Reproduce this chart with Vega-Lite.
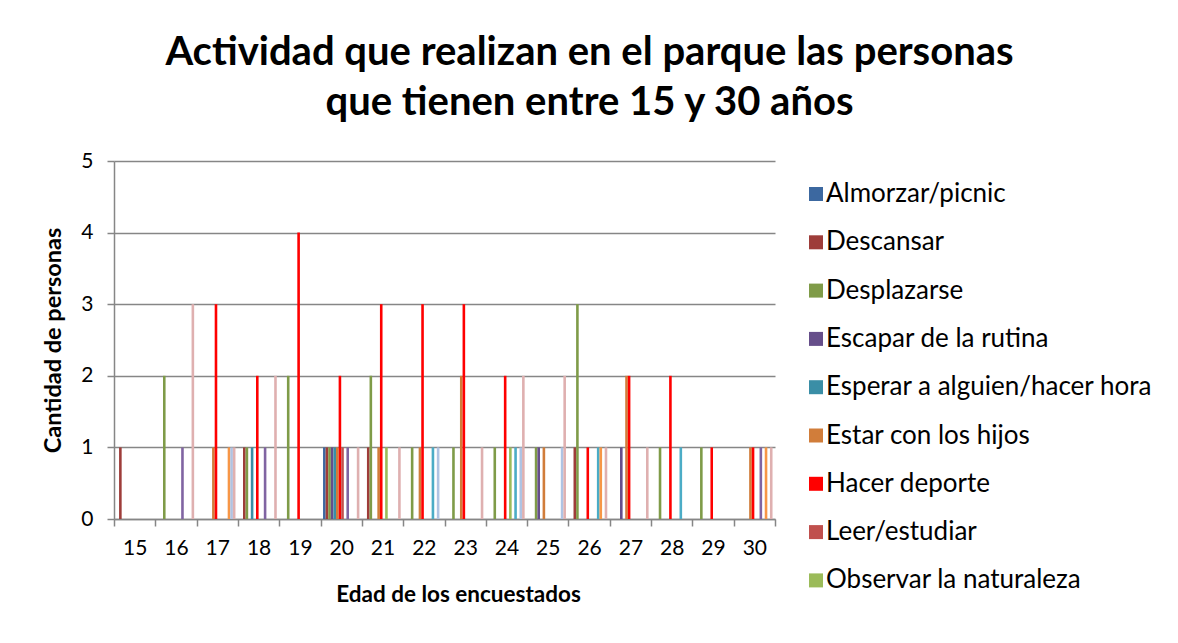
{
  "$schema": "https://vega.github.io/schema/vega-lite/v6.json",
  "width": 661,
  "height": 358,
  "autosize": {"type": "none"},
  "padding": {"left": 114, "top": 161, "right": 403, "bottom": 124},
  "background": "white",
  "title": {
    "text": ["Actividad que realizan en el parque las personas", "que tienen entre 15 y 30 años"],
    "font": "Lato",
    "fontSize": 40,
    "fontWeight": "bold",
    "color": "#000000",
    "anchor": "middle",
    "dx": 145,
    "offset": 27,
    "lineHeight": 50
  },
  "data": {
    "values": [
      {"edad": "15", "actividad": "Descansar", "n": 1},
      {"edad": "16", "actividad": "Desplazarse", "n": 2},
      {"edad": "16", "actividad": "Pasear", "n": 1},
      {"edad": "16", "actividad": "Ver a la pareja", "n": 3},
      {"edad": "17", "actividad": "Estar con los hijos", "n": 1},
      {"edad": "17", "actividad": "Hacer deporte", "n": 3},
      {"edad": "17", "actividad": "Reunirse con amigos", "n": 1},
      {"edad": "17", "actividad": "Tomar el sol", "n": 1},
      {"edad": "17", "actividad": "Ver a la pareja", "n": 1},
      {"edad": "18", "actividad": "Descansar", "n": 1},
      {"edad": "18", "actividad": "Desplazarse", "n": 1},
      {"edad": "18", "actividad": "Esperar a alguien/hacer hora", "n": 1},
      {"edad": "18", "actividad": "Hacer deporte", "n": 2},
      {"edad": "18", "actividad": "Pasear", "n": 1},
      {"edad": "18", "actividad": "Ver a la pareja", "n": 2},
      {"edad": "19", "actividad": "Desplazarse", "n": 2},
      {"edad": "19", "actividad": "Hacer deporte", "n": 4},
      {"edad": "20", "actividad": "Almorzar/picnic", "n": 1},
      {"edad": "20", "actividad": "Descansar", "n": 1},
      {"edad": "20", "actividad": "Desplazarse", "n": 1},
      {"edad": "20", "actividad": "Escapar de la rutina", "n": 1},
      {"edad": "20", "actividad": "Esperar a alguien/hacer hora", "n": 1},
      {"edad": "20", "actividad": "Estar con los hijos", "n": 1},
      {"edad": "20", "actividad": "Hacer deporte", "n": 2},
      {"edad": "20", "actividad": "Leer/estudiar", "n": 1},
      {"edad": "20", "actividad": "Pasear", "n": 1},
      {"edad": "20", "actividad": "Ver a la pareja", "n": 1},
      {"edad": "21", "actividad": "Descansar", "n": 1},
      {"edad": "21", "actividad": "Desplazarse", "n": 2},
      {"edad": "21", "actividad": "Estar con los hijos", "n": 1},
      {"edad": "21", "actividad": "Hacer deporte", "n": 3},
      {"edad": "21", "actividad": "Observar la naturaleza", "n": 1},
      {"edad": "21", "actividad": "Ver a la pareja", "n": 1},
      {"edad": "22", "actividad": "Desplazarse", "n": 1},
      {"edad": "22", "actividad": "Estar con los hijos", "n": 1},
      {"edad": "22", "actividad": "Hacer deporte", "n": 3},
      {"edad": "22", "actividad": "Pasear la mascota", "n": 1},
      {"edad": "22", "actividad": "Tomar el sol", "n": 1},
      {"edad": "23", "actividad": "Desplazarse", "n": 1},
      {"edad": "23", "actividad": "Estar con los hijos", "n": 2},
      {"edad": "23", "actividad": "Hacer deporte", "n": 3},
      {"edad": "23", "actividad": "Ver a la pareja", "n": 1},
      {"edad": "24", "actividad": "Desplazarse", "n": 1},
      {"edad": "24", "actividad": "Hacer deporte", "n": 2},
      {"edad": "24", "actividad": "Observar la naturaleza", "n": 1},
      {"edad": "24", "actividad": "Pasear la mascota", "n": 1},
      {"edad": "24", "actividad": "Tomar el sol", "n": 1},
      {"edad": "24", "actividad": "Ver a la pareja", "n": 2},
      {"edad": "25", "actividad": "Desplazarse", "n": 1},
      {"edad": "25", "actividad": "Escapar de la rutina", "n": 1},
      {"edad": "25", "actividad": "Estar con los hijos", "n": 1},
      {"edad": "25", "actividad": "Tomar el sol", "n": 1},
      {"edad": "25", "actividad": "Ver a la pareja", "n": 2},
      {"edad": "26", "actividad": "Descansar", "n": 1},
      {"edad": "26", "actividad": "Desplazarse", "n": 3},
      {"edad": "26", "actividad": "Hacer deporte", "n": 1},
      {"edad": "26", "actividad": "Pasear la mascota", "n": 1},
      {"edad": "26", "actividad": "Reunirse con amigos", "n": 1},
      {"edad": "26", "actividad": "Ver a la pareja", "n": 1},
      {"edad": "27", "actividad": "Escapar de la rutina", "n": 1},
      {"edad": "27", "actividad": "Estar con los hijos", "n": 2},
      {"edad": "27", "actividad": "Hacer deporte", "n": 2},
      {"edad": "27", "actividad": "Ver a la pareja", "n": 1},
      {"edad": "28", "actividad": "Desplazarse", "n": 1},
      {"edad": "28", "actividad": "Hacer deporte", "n": 2},
      {"edad": "28", "actividad": "Pasear la mascota", "n": 1},
      {"edad": "29", "actividad": "Desplazarse", "n": 1},
      {"edad": "29", "actividad": "Hacer deporte", "n": 1},
      {"edad": "30", "actividad": "Estar con los hijos", "n": 1},
      {"edad": "30", "actividad": "Hacer deporte", "n": 1},
      {"edad": "30", "actividad": "Pasear", "n": 1},
      {"edad": "30", "actividad": "Reunirse con amigos", "n": 1},
      {"edad": "30", "actividad": "Ver a la pareja", "n": 1}
    ]
  },
  "mark": {"type": "bar"},
  "encoding": {
    "x": {
      "field": "edad",
      "type": "ordinal",
      "scale": {
        "domain": ["15","16","17","18","19","20","21","22","23","24","25","26","27","28","29","30"],
        "paddingInner": 0,
        "paddingOuter": 0
      },
      "axis": {
        "title": "Edad de los encuestados",
        "titleFont": "Lato",
        "titleFontSize": 22.5,
        "titleFontWeight": "bold",
        "titleColor": "#000000",
        "titlePadding": 25,
        "titleX": 344,
        "labelAngle": 0,
        "labelFont": "Lato",
        "labelFontSize": 21,
        "labelColor": "#000000",
        "labelPadding": 11,
        "tickBand": "extent",
        "tickSize": 7,
        "tickColor": "#868686",
        "tickWidth": 1.5,
        "domainColor": "#868686",
        "domainWidth": 1.5,
        "grid": false
      }
    },
    "xOffset": {
      "field": "actividad",
      "scale": {
        "domain": ["Almorzar/picnic","Descansar","Desplazarse","Escapar de la rutina","Esperar a alguien/hacer hora","Estar con los hijos","Hacer deporte","Leer/estudiar","Observar la naturaleza","Pasear","Pasear la mascota","Reunirse con amigos","Tomar el sol","Ver a la pareja"],
        "paddingInner": 0,
        "paddingOuter": 0.95
      }
    },
    "y": {
      "field": "n",
      "type": "quantitative",
      "scale": {"domain": [0, 5]},
      "axis": {
        "title": "Cantidad de personas",
        "titleFont": "Lato",
        "titleFontSize": 23.5,
        "titleFontWeight": "bold",
        "titleColor": "#000000",
        "titlePadding": 15,
        "values": [0, 1, 2, 3, 4, 5],
        "labelFont": "Lato",
        "labelFontSize": 21,
        "labelColor": "#000000",
        "labelPadding": 14,
        "tickSize": 7,
        "tickColor": "#868686",
        "tickWidth": 1.5,
        "domainColor": "#868686",
        "domainWidth": 1.5,
        "grid": true,
        "gridColor": "#868686",
        "gridWidth": 1.5
      }
    },
    "color": {
      "field": "actividad",
      "type": "nominal",
      "scale": {
        "domain": ["Almorzar/picnic","Descansar","Desplazarse","Escapar de la rutina","Esperar a alguien/hacer hora","Estar con los hijos","Hacer deporte","Leer/estudiar","Observar la naturaleza","Pasear","Pasear la mascota","Reunirse con amigos","Tomar el sol","Ver a la pareja"],
        "range": ["#3C68A0","#9E3D3A","#7F9B48","#664E8A","#3A8EA6","#D17D3A","#FF0000","#C0504D","#9BBB59","#8064A2","#4BACC6","#F79646","#AFC3E3","#DFB0B0"]
      },
      "legend": {
        "title": null,
        "orient": "none",
        "legendX": 689,
        "legendY": 20,
        "values": ["Almorzar/picnic","Descansar","Desplazarse","Escapar de la rutina","Esperar a alguien/hacer hora","Estar con los hijos","Hacer deporte","Leer/estudiar","Observar la naturaleza"],
        "symbolType": "square",
        "symbolSize": 196,
        "symbolStrokeWidth": 0,
        "labelFont": "Lato",
        "labelFontSize": 26,
        "labelColor": "#000000",
        "labelLimit": 500,
        "labelOffset": -3,
        "rowPadding": 22.3
      }
    }
  },
  "config": {
    "view": {"stroke": null}
  }
}
